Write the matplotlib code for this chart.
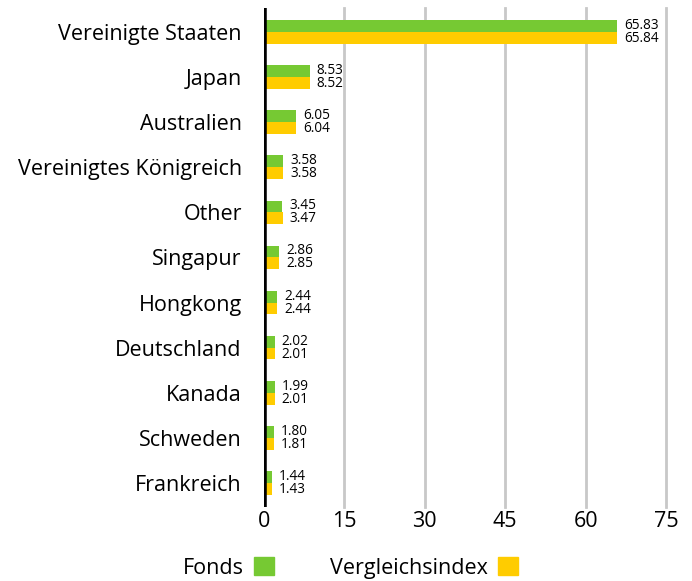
import matplotlib.pyplot as plt
import numpy as np
from matplotlib.patches import Patch

plt.rcParams['font.family'] = ['Open Sans', 'DejaVu Sans']

laender = ['Vereinigte Staaten', 'Japan', 'Australien', 'Vereinigtes Königreich',
           'Other', 'Singapur', 'Hongkong', 'Deutschland', 'Kanada', 'Schweden',
           'Frankreich']
fonds = [65.83, 8.53, 6.05, 3.58, 3.45, 2.86, 2.44, 2.02, 1.99, 1.80, 1.44]
index = [65.84, 8.52, 6.04, 3.58, 3.47, 2.85, 2.44, 2.01, 2.01, 1.81, 1.43]
xticks = [0, 15, 30, 45, 60, 75]

gruen = '#76c933'
gelb = '#ffcc00'

fig = plt.figure(figsize=(6.92, 5.81), dpi=100)
ax = fig.add_axes([0.3815, 0.1274, 0.9624 - 0.3815, 0.859])

y = np.arange(len(laender))
h = 0.26
ax.barh(y - h / 2, fonds, height=h, color=gruen, zorder=3)
ax.barh(y + h / 2, index, height=h, color=gelb, zorder=3)

# beide Werte als ein zweizeiliger Text
for i in range(len(laender)):
    x = max(fonds[i], index[i]) + 1.3
    ax.text(x, y[i], f'{fonds[i]:.2f}\n{index[i]:.2f}', va='center', ha='left',
            fontsize=9.8, linespacing=0.82)

ax.set_xlim(0, 75)
ax.set_ylim(len(laender) - 0.47, -0.53)
ax.set_yticks(y)
ax.set_yticklabels(laender, fontsize=15.5)
ax.set_xticks(xticks)
ax.set_xticklabels([str(t) for t in xticks], fontsize=15.5)
ax.tick_params(length=0)
ax.tick_params(axis='y', pad=16)
ax.tick_params(axis='x', pad=3)

for t in xticks[1:]:
    ax.axvline(t, color='#c8c8c8', lw=2, zorder=1, clip_on=False)
ax.axvline(0, color='black', lw=4, zorder=4)

for s in ax.spines.values():
    s.set_visible(False)

handles = [Patch(color=gruen, label='Fonds'), Patch(color=gelb, label='Vergleichsindex')]
ax.legend(handles=handles, loc='center', bbox_to_anchor=(0.214, -0.122),
          ncol=2, frameon=False, markerfirst=False, fontsize=15.5,
          handlelength=0.9, handleheight=0.9, columnspacing=2.6, handletextpad=0.5)

fig.savefig('out.png', dpi=100)
